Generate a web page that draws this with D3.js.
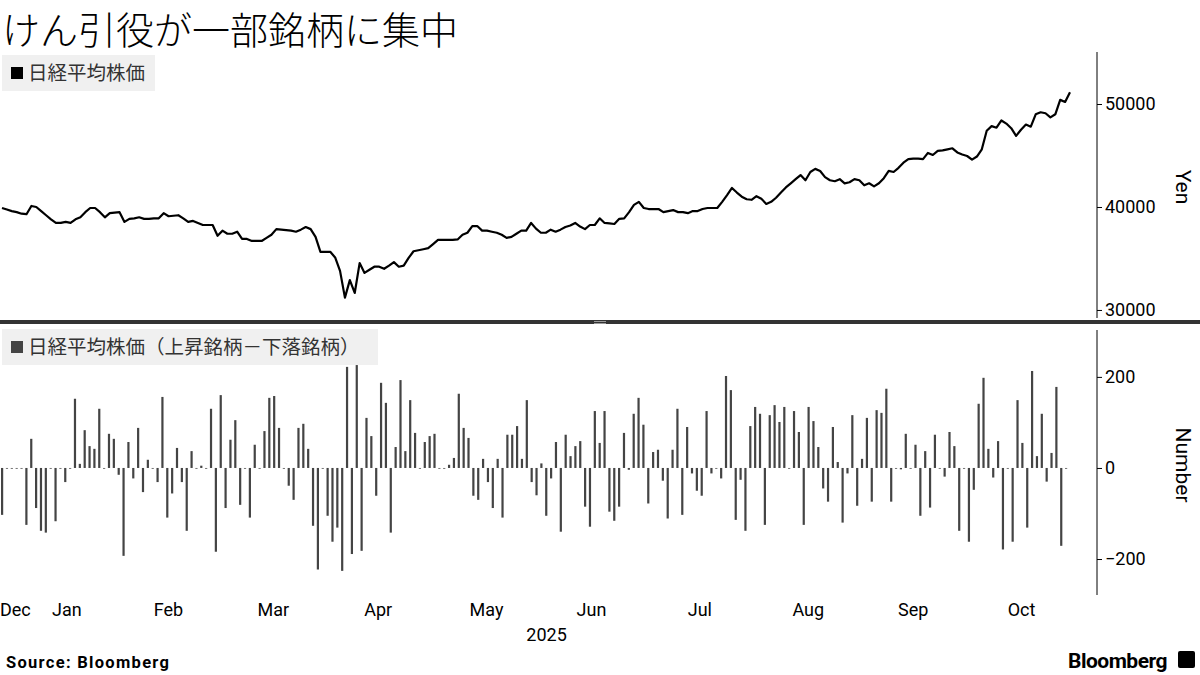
<!DOCTYPE html>
<html><head><meta charset="utf-8">
<script src="https://cdn.jsdelivr.net/npm/d3@7"></script>
<style>body{margin:0;background:#fff}svg{font-family:"Noto Sans CJK JP","Noto Sans",sans-serif}</style>
</head><body><svg id="c" width="1200" height="675"></svg>
<script>
const nikkei=[39900,39750,39600,39500,39350,39300,40100,40000,39600,39200,38800,38450,38450,38550,38450,38800,39000,39500,39900,39900,39500,39000,39400,39450,39500,38550,38850,38900,39000,38850,38850,38900,38900,39400,39100,39150,39200,38900,38550,38650,38450,38250,38250,38250,37200,37700,37400,37400,37600,36900,36900,36700,36700,36700,37000,37300,37850,37800,37750,37700,37600,37800,38050,37850,37100,35650,35650,35650,35100,33800,31200,32900,31650,34550,33600,33900,34200,34200,34000,34300,34650,34200,34300,35050,35700,35800,35900,36000,36400,36800,36800,36800,36800,36850,37300,37500,38150,38150,37700,37700,37600,37500,37300,37000,37100,37400,37700,37700,38450,37900,37500,37500,37800,37600,37800,38050,38200,38450,38100,37850,38250,38250,38900,38450,38400,38350,38850,38900,39500,40200,40500,39900,39800,39800,39800,39500,39600,39700,39500,39500,39400,39600,39600,39800,39900,39900,39900,40500,41150,41850,41400,41000,40750,40700,41050,40800,40300,40500,40900,41400,41900,42300,42700,43100,42600,43400,43700,43500,42900,42600,42500,42700,42300,42400,42700,42600,42100,42300,42000,42300,42800,43500,43400,43800,44300,44650,44700,44700,44650,45250,45050,45450,45500,45600,45700,45300,45100,44950,44600,44900,45600,47400,47850,47700,48400,48100,47650,46900,47500,48000,47800,49000,49200,49100,48700,49000,50400,50200,51150];
const breadth=[-103,0,0,0,0,-125,64,-88,-138,-142,0,-117,0,-31,0,152,9,83,48,42,130,0,75,64,-15,-193,57,-23,88,-53,18,0,-31,156,-109,-56,44,-31,-138,37,0,5,0,130,-184,160,-88,62,105,-81,0,-109,51,0,81,154,158,88,0,-39,-70,88,97,42,-127,-223,0,-105,-162,-131,-226,222,-189,226,-182,110,70,-61,187,143,-142,46,193,37,149,77,0,57,70,75,0,0,7,22,163,88,66,-61,-70,20,-31,-88,20,-109,73,73,92,20,149,-31,-60,10,
-105,-23,57,-140,73,26,48,59,-85,-129,125,55,125,-96,-116,-85,77,-4,119,154,95,-78,35,40,-28,-111,40,130,-103,90,-12,-50,-61,125,-12,0,-23,202,171,-114,-26,-138,92,134,119,-125,116,138,101,134,0,125,79,-125,134,103,46,-45,-74,90,13,-120,-12,116,-83,20,110,-74,127,121,174,-74,0,-3,75,0,51,-105,37,-87,73,0,-19,79,48,-138,0,-162,-48,141,198,42,-21,59,-179,0,-162,149,55,-131,213,26,119,-30,33,178,-171,0];
const months=["Jan","Feb","Mar","Apr","May","Jun","Jul","Aug","Sep","Oct"];
const monthMid=["2025-01-16","2025-02-14","2025-03-16","2025-04-15","2025-05-16","2025-06-15","2025-07-16","2025-08-16","2025-09-15","2025-10-16"];
const yenTicks=[30000,40000,50000];
const numTicks=[-200,0,200];

const svg=d3.select("#c");
const X0=2,X1=1070;
const xl=d3.scaleLinear().domain([0,nikkei.length-1]).range([X0,X1]);
const xb=d3.scaleLinear().domain([0,breadth.length-1]).range([X0,X1-4]);
const xt=d3.scaleTime().domain([new Date("2024-12-27"),new Date("2025-10-29")]).range([X0-5,X1-3]);
const yt=d3.scaleLinear().domain([29220,55050]).range([318,52]);
const yb=d3.scaleLinear().domain([-279,303]).range([595,330]);

svg.append("text").attr("x",2).attr("y",44).attr("font-size",38).attr("font-weight",300).attr("fill","#000").text("けん引役が一部銘柄に集中");

function legend(y,w,label,col){
  svg.append("rect").attr("x",2).attr("y",y).attr("width",w).attr("height",36).attr("fill","#f0f0f0");
  svg.append("rect").attr("x",11).attr("y",y+12).attr("width",12).attr("height",12).attr("fill",col);
  svg.append("text").attr("x",28).attr("y",y+25).attr("font-size",19.5).attr("fill","#333").text(label);
}
legend(55,153,"日経平均株価","#000");
legend(329,376,"日経平均株価（上昇銘柄－下落銘柄）","#444");

svg.append("path").datum(nikkei).attr("fill","none").attr("stroke","#000").attr("stroke-width",2.2).attr("stroke-linejoin","round")
  .attr("d",d3.line().x((d,i)=>xl(i)).y(d=>yt(d)));
svg.append("g").selectAll("rect").data(breadth).join("rect")
  .attr("x",(d,i)=>xb(i)-1).attr("width",2.2)
  .attr("y",d=>Math.min(yb(d),yb(0))).attr("height",d=>Math.max(1,Math.abs(yb(d)-yb(0))))
  .attr("fill",d=>d===0?"#777":"#444");

const ay1=svg.append("g").attr("transform","translate(1097,0)").call(d3.axisRight(yt).tickValues(yenTicks).tickSize(5).tickFormat(d3.format("d")));
ay1.select(".domain").attr("d","M0,52V318");
const ay2=svg.append("g").attr("transform","translate(1097,0)").call(d3.axisRight(yb).tickValues(numTicks).tickSize(5).tickFormat(d=>d<0?"−"+(-d):d));
ay2.select(".domain").attr("d","M0,330V595");
[ay1,ay2].forEach(a=>{a.selectAll("text").attr("font-size",18).attr("fill","#000").attr("x",8).attr("font-family","Roboto, sans-serif");a.selectAll("line,path").attr("stroke","#000");});
svg.append("text").attr("transform","translate(1176,187) rotate(90)").attr("text-anchor","middle").attr("font-size",21).attr("font-family","Roboto, sans-serif").text("Yen");
svg.append("text").attr("transform","translate(1176,465) rotate(90)").attr("text-anchor","middle").attr("font-size",21).attr("font-family","Roboto, sans-serif").text("Number");

svg.append("rect").attr("x",0).attr("y",320).attr("width",1200).attr("height",4).attr("fill","#333");
svg.append("rect").attr("x",594).attr("y",321).attr("width",12).attr("height",1).attr("fill","#999");
svg.append("rect").attr("x",594).attr("y",323).attr("width",12).attr("height",1).attr("fill","#999");

const xg=svg.append("g").attr("font-family","Roboto, sans-serif").attr("font-size",18).attr("fill","#000");
xg.append("text").attr("x",0).attr("y",616).text("Dec");
xg.selectAll(".m").data(months).join("text").attr("class","m").attr("text-anchor","middle")
  .attr("x",(d,i)=>xt(new Date(monthMid[i]))).attr("y",616).text(d=>d);
xg.append("text").attr("x",xt(new Date("2025-05-16"))+60).attr("y",641).attr("text-anchor","middle").text("2025");

svg.append("text").attr("x",6).attr("y",668).attr("font-size",16.5).attr("font-weight","bold").attr("font-family","Roboto, sans-serif").attr("letter-spacing",1.3).text("Source:  Bloomberg");
svg.append("text").attr("x",1167).attr("y",668).attr("text-anchor","end").attr("font-size",21).attr("font-weight","bold").attr("font-family","Roboto, sans-serif").attr("letter-spacing",-0.5).text("Bloomberg");
svg.append("rect").attr("x",1178).attr("y",651).attr("width",17).attr("height",17).attr("rx",2).attr("fill","#000");
</script></body></html>
